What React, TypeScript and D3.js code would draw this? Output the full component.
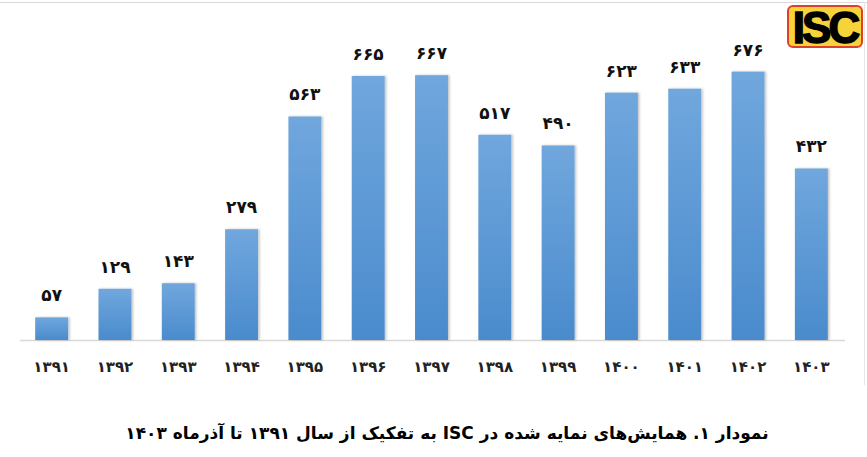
import React, { useRef, useEffect } from "react";
import * as d3 from "d3";

const years = ["1391", "1392", "1393", "1394", "1395", "1396", "1397", "1398", "1399", "1400", "1401", "1402", "1403"];
const counts = [57, 129, 143, 279, 563, 665, 667, 517, 490, 623, 633, 676, 432];
const caption = "نمودار ۱. همایش‌های نمایه شده در ISC به تفکیک از سال ۱۳۹۱ تا آذرماه ۱۴۰۳";

const faDigits = "۰۱۲۳۴۵۶۷۸۹";
const toFa = (s: string | number) => String(s).replace(/[0-9]/g, (d) => faDigits[+d]);

const W = 867;
const H = 457;

const App: React.FC = () => {
  const svgRef = useRef<SVGSVGElement | null>(null);

  useEffect(() => {
    if (!svgRef.current) return;
    const svg = d3.select(svgRef.current);
    svg.selectAll("*").remove();

    const baseY = 340;

    const x = d3.scaleBand<string>().domain(years).range([20, 843]).paddingInner(0.48).paddingOuter(0.24);
    const y = d3.scaleLinear().domain([0, 700]).range([baseY, baseY - 0.397 * 700]);

    const defs = svg.append("defs");
    const grad = defs
      .append("linearGradient")
      .attr("id", "barGrad")
      .attr("x1", "0%")
      .attr("x2", "0%")
      .attr("y1", "0%")
      .attr("y2", "100%");
    grad.append("stop").attr("offset", "0%").attr("stop-color", "#70a7dd");
    grad.append("stop").attr("offset", "100%").attr("stop-color", "#4a8bcd");

    const shadow = defs.append("filter").attr("id", "shadow").attr("x", "-20%").attr("y", "-5%").attr("width", "150%").attr("height", "110%");
    shadow.append("feDropShadow").attr("dx", 1.5).attr("dy", 0).attr("stdDeviation", 1.2).attr("flood-color", "#000").attr("flood-opacity", 0.25);

    // frame lines
    svg.append("line").attr("x1", 0).attr("x2", W).attr("y1", 2.5).attr("y2", 2.5).attr("stroke", "#d9d9d9");
    svg.append("line").attr("x1", 864.5).attr("x2", 864.5).attr("y1", 2).attr("y2", 385).attr("stroke", "#e6e6e6");

    // axis line
    svg.append("line").attr("x1", 20).attr("x2", 845).attr("y1", baseY + 0.5).attr("y2", baseY + 0.5).attr("stroke", "#d9d9d9").attr("stroke-width", 1.5);

    const data = years.map((yr, i) => ({ yr, v: counts[i] }));

    svg
      .append("g")
      .selectAll("rect")
      .data(data)
      .join("rect")
      .attr("x", (d) => x(d.yr) || 0)
      .attr("y", (d) => y(d.v))
      .attr("width", x.bandwidth())
      .attr("height", (d) => baseY - y(d.v))
      .attr("fill", "url(#barGrad)")
      .attr("filter", "url(#shadow)");

    svg
      .append("g")
      .selectAll("text")
      .data(data)
      .join("text")
      .attr("x", (d) => (x(d.yr) || 0) + x.bandwidth() / 2)
      .attr("y", (d) => y(d.v) - 16)
      .attr("text-anchor", "middle")
      .attr("font-family", "DejaVu Sans")
      .attr("font-weight", "bold")
      .attr("font-size", 17)
      .attr("fill", "#111")
      .text((d) => toFa(d.v));

    svg
      .append("g")
      .selectAll("text")
      .data(years)
      .join("text")
      .attr("x", (d) => (x(d) || 0) + x.bandwidth() / 2)
      .attr("y", 372)
      .attr("text-anchor", "middle")
      .attr("font-family", "DejaVu Sans")
      .attr("font-weight", "bold")
      .attr("font-size", 15)
      .attr("fill", "#222")
      .text((d) => toFa(d));

    // logo
    const logo = svg.append("g");
    logo.append("rect").attr("x", 788).attr("y", 6).attr("width", 74).attr("height", 41).attr("rx", 5)
      .attr("fill", "#f7d33b").attr("stroke", "#e0402a").attr("stroke-width", 2);
    logo.append("text").attr("x", 825).attr("y", 43).attr("text-anchor", "middle")
      .attr("font-family", "Liberation Sans").attr("font-weight", "bold").attr("font-size", 44)
      .attr("letter-spacing", -3).attr("stroke", "#000").attr("stroke-width", 1.5)
      .attr("fill", "#000").text("ISC");

    svg.append("text")
      .attr("x", 447).attr("y", 439).attr("text-anchor", "middle").attr("direction", "rtl")
      .attr("font-family", "DejaVu Sans").attr("font-weight", "bold").attr("font-size", 17).attr("fill", "#000")
      .text(caption);
  }, []);

  return (
    <div style={{ position: "absolute", left: 0, top: 0, background: "#fff" }}>
      <svg ref={svgRef} width={W} height={H} style={{ display: "block" }} />
    </div>
  );
};

export default App;
